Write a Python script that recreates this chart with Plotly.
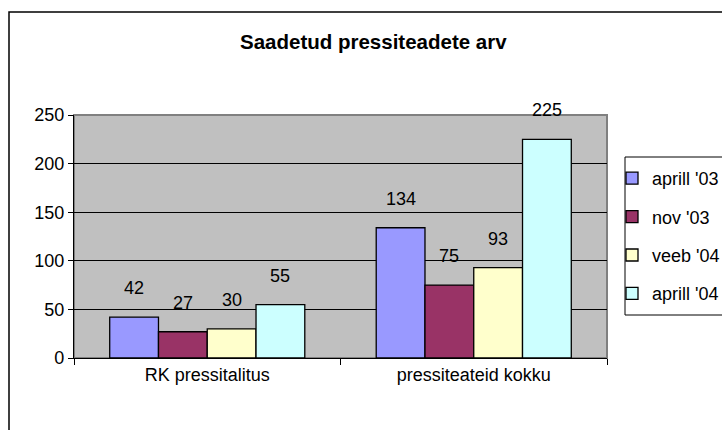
import plotly.graph_objects as go

categories = ["RK pressitalitus", "pressiteateid kokku"]
series_names = ["aprill '03", "nov '03", "veeb '04", "aprill '04"]
values = {
    "aprill '03": [42, 134],
    "nov '03": [27, 75],
    "veeb '04": [30, 93],
    "aprill '04": [55, 225],
}
colors = ["#9999FF", "#993366", "#FFFFCC", "#CCFFFF"]
y_ticks = [0, 50, 100, 150, 200, 250]
title_text = "Saadetud pressiteadete arv"

W, H = 722, 430
L, R, T, B = 74, 115, 115, 72
plot_w = W - L - R
plot_h = H - T - B
bargap = 0.268
font = "Liberation Sans, Arial, sans-serif"

def px_x(px):
    return (px - L) / plot_w

def px_y(py):
    return (H - B - py) / plot_h

fig = go.Figure()
for i, name in enumerate(series_names):
    fig.add_trace(go.Bar(
        x=categories, y=values[name], name=name,
        marker=dict(color=colors[i], line=dict(color="black", width=1.3)),
        legendgroup=name,
    ))

# data labels above bars
cat_w = plot_w / len(categories)
bar_w = cat_w * (1 - bargap) / len(series_names)
annotations = []
for i, name in enumerate(series_names):
    for j, cat in enumerate(categories):
        annotations.append(dict(
            x=cat, y=values[name][j], xref="x", yref="y",
            text=str(values[name][j]), showarrow=False,
            xshift=(i - (len(series_names) - 1) / 2) * bar_w,
            yshift=17, yanchor="bottom",
            font=dict(family=font, size=18, color="black"),
        ))

annotations.append(dict(
    x=px_x(373), y=px_y(42), xref="paper", yref="paper",
    text="<b>" + title_text + "</b>", showarrow=False,
    xanchor="center", yanchor="middle",
    font=dict(family=font, size=20.5, color="black"),
))

shapes = [
    # plot area border
    dict(type="rect", xref="paper", yref="paper", x0=0, x1=1, y0=0, y1=1,
         line=dict(color="#808080", width=2), layer="below"),
    # outer chart border
    dict(type="rect", xref="paper", yref="paper",
         x0=px_x(9), x1=2, y0=-1, y1=px_y(12),
         line=dict(color="black", width=1.5)),
    # legend box
    dict(type="rect", xref="paper", yref="paper",
         x0=px_x(625), x1=px_x(760), y0=px_y(315), y1=px_y(157),
         line=dict(color="black", width=1), fillcolor="white"),
]

fig.update_layout(
    width=W, height=H,
    margin=dict(l=L, r=R, t=T, b=B, pad=0, autoexpand=False),
    paper_bgcolor="white", plot_bgcolor="#C0C0C0",
    barmode="group", bargap=bargap, bargroupgap=0,
    font=dict(family=font, size=18, color="black"),
    showlegend=True,
    legend=dict(
        x=px_x(612), y=px_y(160),
        xanchor="left", yanchor="top",
        borderwidth=0, bgcolor="rgba(0,0,0,0)",
        font=dict(family=font, size=18, color="black"),
        traceorder="grouped", tracegroupgap=12,
        itemwidth=30,
    ),
    annotations=annotations,
    shapes=shapes,
)
fig.update_xaxes(
    automargin=False,
    showline=True, linecolor="black", linewidth=1.3,
    ticks="outside", tickson="boundaries", ticklen=6, tickcolor="black",
    showgrid=False,
    tickfont=dict(family=font, size=18, color="black"),
)
fig.update_yaxes(
    automargin=False,
    range=[0, 250], tickvals=y_ticks,
    showline=True, linecolor="black", linewidth=1.3,
    ticks="outside", ticklen=5, tickcolor="black",
    showgrid=True, gridcolor="black", gridwidth=1,
    zeroline=False,
    tickfont=dict(family=font, size=18, color="black"),
)

fig.write_html(
    "out.html",
    config={"displayModeBar": False},
    post_script="document.body.style.margin='0px';document.body.style.overflow='hidden';",
)
